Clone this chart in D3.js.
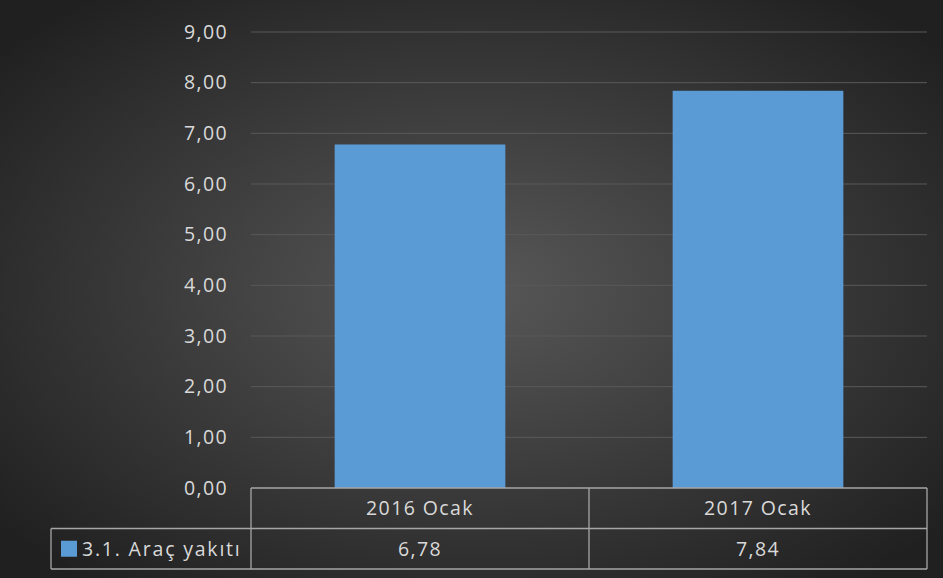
<!DOCTYPE html>
<html><head><meta charset="utf-8">
<script src="https://cdn.jsdelivr.net/npm/d3@7"></script>
<style>html,body{margin:0;padding:0;background:#262626;}svg{display:block;}</style>
</head><body>
<svg id="c" width="943" height="578"></svg>
<script>
const categories = ["2016 Ocak", "2017 Ocak"];
const seriesName = "3.1. Araç yakıtı";
const values = [6.78, 7.84];
const valueLabels = ["6,78", "7,84"];
const yTicks = [0, 1, 2, 3, 4, 5, 6, 7, 8, 9];

const W = 943, H = 578;
const svg = d3.select("#c");
const defs = svg.append("defs");
const g = defs.append("radialGradient").attr("id","bg").attr("cx","50%").attr("cy","50%").attr("r","65%");
g.append("stop").attr("offset","0%").attr("stop-color","#585858");
g.append("stop").attr("offset","100%").attr("stop-color","#202020");
svg.append("rect").attr("width",W).attr("height",H).attr("fill","url(#bg)");

const plotL = 251, plotR = 927, yTop = 32, yBot = 488;
const x = d3.scaleBand().domain(categories).range([plotL, plotR]).paddingInner(0).paddingOuter(0);
const y = d3.scaleLinear().domain([0, 9]).range([yBot, yTop]);
const font = "'Segoe UI','Open Sans','Noto Sans',sans-serif";
const txt = "#d9d9d9";
const fs = "19.5px", ls = "1.4px";

// gridlines
svg.append("g").selectAll("line").data(yTicks.filter(d=>d>0)).join("line")
  .attr("x1", plotL).attr("x2", plotR)
  .attr("y1", d=>y(d)).attr("y2", d=>y(d))
  .attr("stroke", "#595959").attr("stroke-width", 1);

// y axis labels
const fmt = d => d3.format(".2f")(d).replace(".", ",");
svg.append("g").selectAll("text").data(yTicks).join("text")
  .attr("x", 228).attr("y", d=>y(d)).attr("dy","0.35em")
  .attr("text-anchor","end").attr("fill",txt).attr("letter-spacing",ls)
  .attr("font-family",font).attr("font-size",fs).text(fmt);

// bars
const bw = x.bandwidth()*0.505;
svg.append("g").selectAll("rect").data(values).join("rect")
  .attr("x",(d,i)=>x(categories[i])+x.bandwidth()/2-bw/2)
  .attr("width",bw)
  .attr("y",d=>y(d)).attr("height",d=>yBot-y(d))
  .attr("fill","#5b9bd5");

// data table
const rowH = 40.5;
const r1 = yBot, r2 = yBot+rowH, r3 = yBot+2*rowH;
const legL = 51;
const tbl = svg.append("g").attr("stroke","#a6a6a6").attr("stroke-width",1.3).attr("fill","none");
tbl.append("line").attr("x1",plotL).attr("x2",plotR).attr("y1",r1).attr("y2",r1);
tbl.append("line").attr("x1",legL).attr("x2",plotR).attr("y1",r2).attr("y2",r2);
tbl.append("line").attr("x1",legL).attr("x2",plotR).attr("y1",r3).attr("y2",r3);
tbl.append("line").attr("x1",legL).attr("x2",legL).attr("y1",r2).attr("y2",r3);
[plotL, ...categories.map(c=>x(c)+x.bandwidth())].forEach(xx=>{
  tbl.append("line").attr("x1",xx).attr("x2",xx).attr("y1",r1).attr("y2",r3);
});
svg.append("g").selectAll("text").data(categories).join("text")
  .attr("x",d=>x(d)+x.bandwidth()/2).attr("y",(r1+r2)/2).attr("dy","0.35em")
  .attr("text-anchor","middle").attr("fill",txt).attr("letter-spacing",ls)
  .attr("font-family",font).attr("font-size",fs).text(d=>d);
svg.append("g").selectAll("text").data(valueLabels).join("text")
  .attr("x",(d,i)=>x(categories[i])+x.bandwidth()/2).attr("y",(r2+r3)/2).attr("dy","0.35em")
  .attr("text-anchor","middle").attr("fill",txt).attr("letter-spacing",ls)
  .attr("font-family",font).attr("font-size",fs).text(d=>d);
// legend
svg.append("rect").attr("x",61).attr("y",(r2+r3)/2-8).attr("width",16).attr("height",16).attr("fill","#5b9bd5");
svg.append("text").attr("x",82).attr("y",(r2+r3)/2).attr("dy","0.35em").attr("fill",txt).attr("letter-spacing","1.8px")
  .attr("font-family",font).attr("font-size",fs).text(seriesName);
</script>
</body></html>
